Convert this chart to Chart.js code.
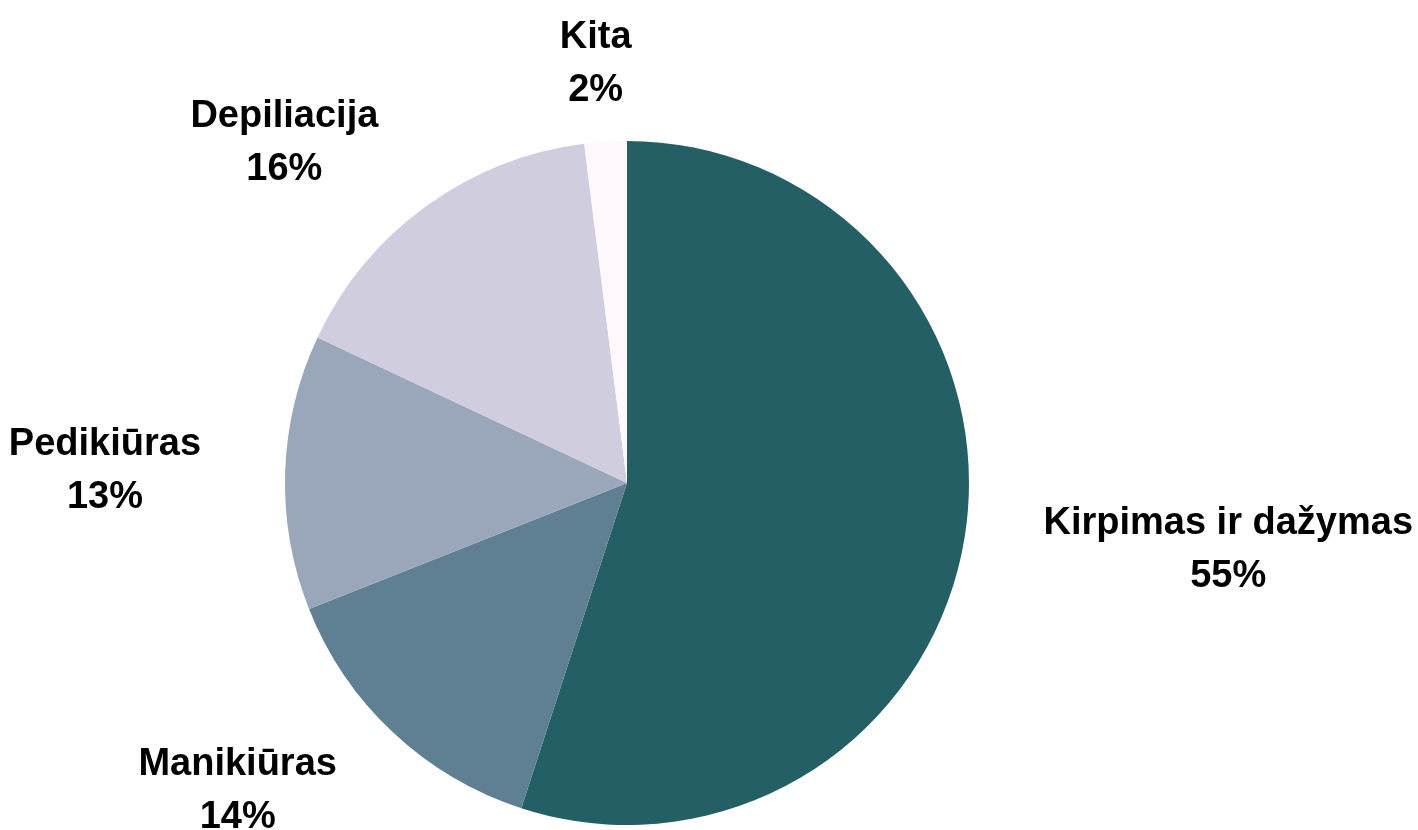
<!DOCTYPE html>
<html>
<head>
<meta charset="utf-8">
<script src="https://cdn.jsdelivr.net/npm/chart.js@4/dist/chart.umd.min.js"></script>
<style>
  html, body { margin: 0; padding: 0; background: #ffffff; }
  #wrap { width: 1418px; height: 830px; position: relative; }
</style>
</head>
<body>
<div id="wrap"><canvas id="c" width="1418" height="830"></canvas></div>
<script>
const categories = ["Kirpimas ir dažymas", "Manikiūras", "Pedikiūras", "Depiliacija", "Kita"];
const shares = [55, 14, 13, 16, 2];
const sliceColors = ["#245F66", "#5F8092", "#9AA7BA", "#D0CEDE", "#FEF7FC"];

const outsideLabels = {
  id: 'outsideLabels',
  afterDatasetsDraw(chart) {
    const ctx = chart.ctx;
    const meta = chart.getDatasetMeta(0);
    const total = shares.reduce((a, b) => a + b, 0);
    ctx.save();
    ctx.font = 'bold 38px "Liberation Sans", Arial, sans-serif';
    ctx.fillStyle = '#000000';
    ctx.textAlign = 'center';
    ctx.textBaseline = 'middle';
    const lineGap = 53;
    meta.data.forEach((arc, i) => {
      const p = arc.getProps(['x', 'y', 'startAngle', 'endAngle', 'outerRadius'], true);
      const mid = (p.startAngle + p.endAngle) / 2;
      const dx = Math.cos(mid), dy = Math.sin(mid);
      const l1 = categories[i];
      const l2 = Math.round(shares[i] / total * 100) + '%';
      const hw = Math.max(ctx.measureText(l1).width, ctx.measureText(l2).width) / 2;
      const hh = 40;
      const kx = Math.max(-1, Math.min(1, dx * 2));
      const cx = p.x + dx * (p.outerRadius + 89) + hw * 0.95 * kx;
      const cy = p.y + dy * (p.outerRadius + 41) + hh * 0.95 * dy + 1;
      ctx.fillText(l1, cx, cy - lineGap / 2);
      ctx.fillText(l2, cx, cy + lineGap / 2);
    });
    ctx.restore();
  }
};

new Chart(document.getElementById('c'), {
  type: 'pie',
  data: {
    labels: categories,
    datasets: [{
      data: shares,
      backgroundColor: sliceColors,
      borderWidth: 0
    }]
  },
  options: {
    responsive: false,
    animation: false,
    layout: { padding: { top: 141, bottom: 5, left: 285, right: 449 } },
    plugins: {
      legend: { display: false },
      tooltip: { enabled: false }
    }
  },
  plugins: [outsideLabels]
});
</script>
</body>
</html>
